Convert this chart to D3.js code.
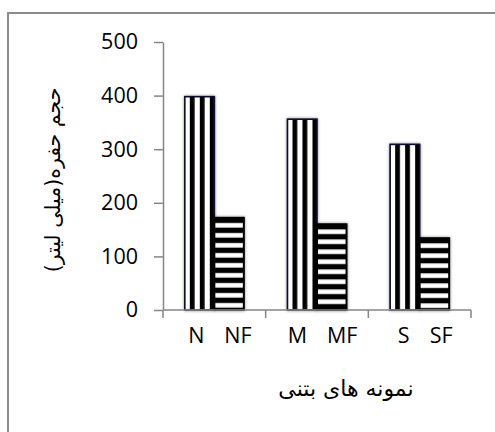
<!DOCTYPE html>
<html><head><meta charset="utf-8">
<script src="https://cdn.jsdelivr.net/npm/d3@7"></script>
<style>
body{margin:0;background:#fff;}
svg{display:block;}
text{font-family:"Open Sans",sans-serif;fill:#000;}
</style></head>
<body><svg id="c" width="495" height="432"></svg>
<script>
const groups = ["N","M","S"];
const labelsA = ["N","M","S"];
const labelsB = ["NF","MF","SF"];
const valuesA = [398, 356, 309];
const valuesB = [172, 160, 134];
const yTicks = [0,100,200,300,400,500];
const yTitle = "حجم حفره(میلی لیتر)";
const xTitle = "نمونه های بتنی";

const svg = d3.select("#c");
const W = 495, H = 432;
const plot = {l:163, r:471, t:42, b:310};

// frame (top & left edges visible)
svg.append("line").attr("x1",8).attr("x2",W).attr("y1",13).attr("y2",13).attr("stroke","#8c8c8c").attr("stroke-width",2);
svg.append("line").attr("x1",8).attr("x2",8).attr("y1",12).attr("y2",H).attr("stroke","#8c8c8c").attr("stroke-width",2);

const x0 = d3.scaleBand().domain(groups).range([plot.l, plot.r]).paddingInner(0.425).paddingOuter(0.2125);
const x1 = d3.scaleBand().domain([0,1]).range([0, x0.bandwidth()]);
const y = d3.scaleLinear().domain([0,500]).range([plot.b, plot.t]);

const defs = svg.append("defs");
const f = defs.append("filter").attr("id","sh").attr("x","-30%").attr("y","-10%").attr("width","160%").attr("height","120%");
f.append("feDropShadow").attr("dx",0).attr("dy",0).attr("stdDeviation",1.8).attr("flood-color","#000").attr("flood-opacity",0.45);
const lg = defs.append("linearGradient").attr("id","edge").attr("x1",0).attr("x2",0).attr("y1",0).attr("y2",1);
lg.append("stop").attr("offset","0%").attr("stop-color","#1a1a80");
lg.append("stop").attr("offset","80%").attr("stop-color","#2a2ad0");
lg.append("stop").attr("offset","100%").attr("stop-color","#9a20d0");

const rows = groups.map((g,i)=>({g, a:valuesA[i], b:valuesB[i]}));

// patterns per bar
rows.forEach((d,i)=>{
  const xa = x0(d.g)+x1(0);
  const pv = defs.append("pattern").attr("id","pv"+i).attr("patternUnits","userSpaceOnUse")
    .attr("x",xa).attr("y",0).attr("width",10).attr("height",10);
  pv.append("rect").attr("width",10).attr("height",10).attr("fill","#fff");
  pv.append("rect").attr("x",5).attr("width",4.8).attr("height",10).attr("fill","#000");
  const yb = y(d.b);
  const ph = defs.append("pattern").attr("id","ph"+i).attr("patternUnits","userSpaceOnUse")
    .attr("x",0).attr("y",yb).attr("width",10).attr("height",10);
  ph.append("rect").attr("width",10).attr("height",10).attr("fill","#000");
  ph.append("rect").attr("y",5.2).attr("width",10).attr("height",4.6).attr("fill","#fff");
});

const bars = svg.append("g");
rows.forEach((d,i)=>{
  const xa = x0(d.g)+x1(0), xb = x0(d.g)+x1(1), bw = x1.bandwidth();
  bars.append("rect").attr("x",xa).attr("y",y(d.a)).attr("width",bw).attr("height",y(0)-y(d.a))
    .attr("fill","url(#pv"+i+")").attr("stroke","#0a0a30").attr("stroke-width",1.6).attr("filter","url(#sh)");
  bars.append("line").attr("x1",xa).attr("x2",xa).attr("y1",y(d.a)).attr("y2",y(0))
    .attr("stroke","url(#edge)").attr("stroke-width",1.2);
  bars.append("rect").attr("x",xb).attr("y",y(d.b)).attr("width",bw).attr("height",y(0)-y(d.b))
    .attr("fill","url(#ph"+i+")").attr("stroke","#000").attr("stroke-width",2).attr("filter","url(#sh)");
});

// y axis
const ya = svg.append("g").attr("transform",`translate(${plot.l},0)`)
  .call(d3.axisLeft(y).tickValues(yTicks).tickSize(9).tickPadding(16).tickSizeOuter(0));
ya.select(".domain").attr("stroke","#868686").attr("stroke-width",1.5);
ya.selectAll(".tick line").attr("stroke","#868686").attr("stroke-width",1.5);
ya.selectAll(".tick text").style("font-size","21.5px").attr("fill","#000");

// x axis line + boundary ticks
svg.append("line").attr("x1",plot.l).attr("x2",plot.r).attr("y1",y(0)).attr("y2",y(0)).attr("stroke","#868686").attr("stroke-width",1.5);
const bounds = d3.range(groups.length+1).map(i=>x0.range()[0]+i*x0.step());
svg.append("g").selectAll("line").data(bounds).join("line")
  .attr("x1",d=>d).attr("x2",d=>d).attr("y1",y(0)).attr("y2",y(0)+8).attr("stroke","#868686").attr("stroke-width",1.5);

// category labels
const lab = svg.append("g").style("font-size","21.5px");
groups.forEach((g,i)=>{
  const c = x0(g)+x0.bandwidth()/2;
  lab.append("text").attr("x",c-10).attr("y",343).attr("text-anchor","end").text(labelsA[i]);
  lab.append("text").attr("x",c+10).attr("y",343).attr("text-anchor","start").text(labelsB[i]);
});

// titles
svg.append("text").attr("transform","translate(60,180) rotate(-90)").attr("text-anchor","middle")
  .style("font-family","'DejaVu Sans',sans-serif").style("font-size","20.5px").attr("direction","rtl").text(yTitle);
svg.append("text").attr("x",346).attr("y",396).attr("text-anchor","middle")
  .style("font-family","'DejaVu Sans',sans-serif").style("font-size","22px").attr("direction","rtl").text(xTitle);
</script></body></html>
